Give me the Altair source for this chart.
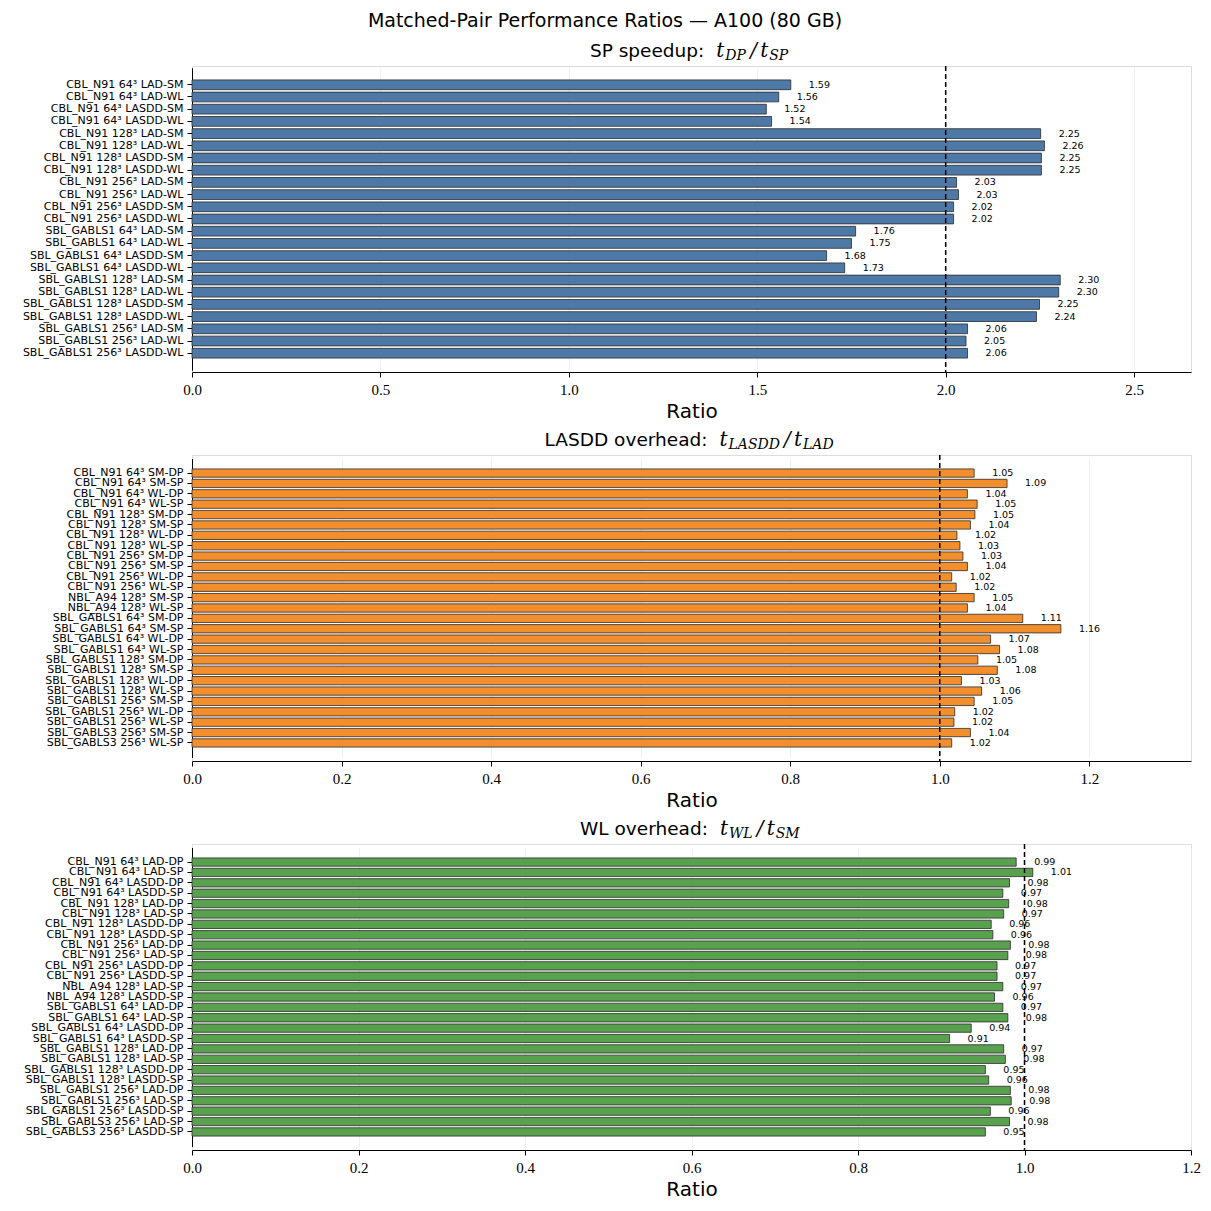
import altair as alt
import pandas as pd

# ---------------- data ----------------
sp_labels = [
    "CBL_N91 64³ LAD-SM", "CBL_N91 64³ LAD-WL", "CBL_N91 64³ LASDD-SM", "CBL_N91 64³ LASDD-WL",
    "CBL_N91 128³ LAD-SM", "CBL_N91 128³ LAD-WL", "CBL_N91 128³ LASDD-SM", "CBL_N91 128³ LASDD-WL",
    "CBL_N91 256³ LAD-SM", "CBL_N91 256³ LAD-WL", "CBL_N91 256³ LASDD-SM", "CBL_N91 256³ LASDD-WL",
    "SBL_GABLS1 64³ LAD-SM", "SBL_GABLS1 64³ LAD-WL", "SBL_GABLS1 64³ LASDD-SM", "SBL_GABLS1 64³ LASDD-WL",
    "SBL_GABLS1 128³ LAD-SM", "SBL_GABLS1 128³ LAD-WL", "SBL_GABLS1 128³ LASDD-SM", "SBL_GABLS1 128³ LASDD-WL",
    "SBL_GABLS1 256³ LAD-SM", "SBL_GABLS1 256³ LAD-WL", "SBL_GABLS1 256³ LASDD-WL",
]
sp_values = [
    1.589, 1.557, 1.524, 1.538,
    2.252, 2.262, 2.254, 2.254,
    2.029, 2.034, 2.021, 2.021,
    1.761, 1.750, 1.684, 1.732,
    2.304, 2.300, 2.249, 2.241,
    2.058, 2.054, 2.058,
]

lasdd_labels = [
    "CBL_N91 64³ SM-DP", "CBL_N91 64³ SM-SP", "CBL_N91 64³ WL-DP", "CBL_N91 64³ WL-SP",
    "CBL_N91 128³ SM-DP", "CBL_N91 128³ SM-SP", "CBL_N91 128³ WL-DP", "CBL_N91 128³ WL-SP",
    "CBL_N91 256³ SM-DP", "CBL_N91 256³ SM-SP", "CBL_N91 256³ WL-DP", "CBL_N91 256³ WL-SP",
    "NBL_A94 128³ SM-SP", "NBL_A94 128³ WL-SP",
    "SBL_GABLS1 64³ SM-DP", "SBL_GABLS1 64³ SM-SP", "SBL_GABLS1 64³ WL-DP", "SBL_GABLS1 64³ WL-SP",
    "SBL_GABLS1 128³ SM-DP", "SBL_GABLS1 128³ SM-SP", "SBL_GABLS1 128³ WL-DP", "SBL_GABLS1 128³ WL-SP",
    "SBL_GABLS1 256³ SM-SP", "SBL_GABLS1 256³ WL-DP", "SBL_GABLS1 256³ WL-SP",
    "SBL_GABLS3 256³ SM-SP", "SBL_GABLS3 256³ WL-SP",
]
lasdd_values = [
    1.046, 1.090, 1.037, 1.050,
    1.047, 1.041, 1.023, 1.027,
    1.031, 1.037, 1.016, 1.022,
    1.046, 1.037,
    1.111, 1.162, 1.068, 1.080,
    1.051, 1.077, 1.029, 1.056,
    1.046, 1.020, 1.019,
    1.041, 1.016,
]

wl_labels = [
    "CBL_N91 64³ LAD-DP", "CBL_N91 64³ LAD-SP", "CBL_N91 64³ LASDD-DP", "CBL_N91 64³ LASDD-SP",
    "CBL_N91 128³ LAD-DP", "CBL_N91 128³ LAD-SP", "CBL_N91 128³ LASDD-DP", "CBL_N91 128³ LASDD-SP",
    "CBL_N91 256³ LAD-DP", "CBL_N91 256³ LAD-SP", "CBL_N91 256³ LASDD-DP", "CBL_N91 256³ LASDD-SP",
    "NBL_A94 128³ LAD-SP", "NBL_A94 128³ LASDD-SP",
    "SBL_GABLS1 64³ LAD-DP", "SBL_GABLS1 64³ LAD-SP", "SBL_GABLS1 64³ LASDD-DP", "SBL_GABLS1 64³ LASDD-SP",
    "SBL_GABLS1 128³ LAD-DP", "SBL_GABLS1 128³ LAD-SP", "SBL_GABLS1 128³ LASDD-DP", "SBL_GABLS1 128³ LASDD-SP",
    "SBL_GABLS1 256³ LAD-DP", "SBL_GABLS1 256³ LAD-SP", "SBL_GABLS1 256³ LASDD-SP",
    "SBL_GABLS3 256³ LAD-SP", "SBL_GABLS3 256³ LASDD-SP",
]
wl_values = [
    0.990, 1.010, 0.982, 0.974,
    0.981, 0.975, 0.960, 0.962,
    0.983, 0.980, 0.967, 0.967,
    0.974, 0.964,
    0.974, 0.980, 0.936, 0.910,
    0.975, 0.977, 0.953, 0.957,
    0.983, 0.984, 0.959,
    0.982, 0.953,
]

SUPTITLE = "Matched-Pair Performance Ratios — A100 (80 GB)"

SANS = "DejaVu Sans"
MATH = "DejaVu Serif"
SERIF = "Liberation Serif"
W, H = 999, 306

# approximate advance widths (em) used only to centre the composite titles
SANS_W = {"S": .635, "P": .603, " ": .318, "s": .521, "p": .635, "e": .615, "d": .635,
          "u": .634, ":": .337, "L": .557, "A": .684, "D": .770, "o": .612, "v": .592,
          "r": .411, "h": .634, "a": .613, "W": .989, "M": .863}
MATH_W = {"D": .83, "P": .733, "S": .686, "L": .683, "A": .722, "W": 1.093, "M": .995}

T_SIZE = 18.5
SUB_SIZE = 14


def text_w(s, table, size):
    return sum(table.get(c, 0.6) for c in s) * size


def title_layers(sans, sub1, sub2):
    one = pd.DataFrame({"d": [0]})
    sw = text_w(sans, SANS_W, T_SIZE)
    w1 = text_w(sub1, MATH_W, SUB_SIZE)
    w2 = text_w(sub2, MATH_W, SUB_SIZE)
    mw = 9 + w1 + 3 + 10 + 9 + w2
    total = sw + 12 + mw
    start = W / 2 - 2 - total / 2
    xs = start + sw
    x0 = xs + 12
    yb = -9
    out = [alt.Chart(one).mark_text(text=sans, align="right", baseline="alphabetic",
                                    font=SANS, fontSize=T_SIZE, color="black").encode(
        x=alt.value(xs), y=alt.value(yb))]
    parts = [("t", False, x0), (sub1, True, x0 + 9), ("/", False, x0 + 9 + w1 + 3),
             ("t", False, x0 + 9 + w1 + 13), (sub2, True, x0 + 9 + w1 + 22)]
    for txt, sub, x in parts:
        out.append(alt.Chart(one).mark_text(
            text=txt, align="left", baseline="alphabetic", font=MATH, fontStyle="italic",
            fontSize=SUB_SIZE if sub else 20, color="black").encode(
            x=alt.value(x), y=alt.value(yb + (3 if sub else 0))))
    return out


def panel(labels, values, color, ref, xmax, ticks, title, first=False):
    n = len(labels)
    df = pd.DataFrame({"label": labels, "value": values,
                       "txt": [f"{v:.2f}" for v in values]})
    po = 0.05 * (n - 0.2)
    step = H / (n - 0.2 + 2 * po)
    off = (po - 1.0) * step
    yenc = alt.Y("label:N", sort=None, title=None,
                 scale=alt.Scale(paddingInner=0.2, paddingOuter=1.0, range=[off, H - off]),
                 axis=alt.Axis(labelFont=SANS, labelFontSize=11, labelLimit=0,
                               tickSize=5, labelPadding=4, domainColor="black",
                               tickColor="black", labelColor="black", grid=False))
    xenc = alt.X("value:Q", scale=alt.Scale(domain=[0, xmax], nice=False, zero=True),
                 axis=alt.Axis(values=ticks, format=".1f", title="Ratio", labelFlush=False,
                               labelFont=SERIF, labelFontSize=15, labelPadding=5,
                               tickSize=5, titleFont=SANS, titleFontSize=20,
                               titleFontWeight="normal", titlePadding=4,
                               grid=True, gridColor="#ececec", gridWidth=0.8,
                               domainColor="black", tickColor="black",
                               labelColor="black", titleColor="black"))
    base = alt.Chart(df)
    bars = base.mark_bar(color=color, stroke="#2b2b2b", strokeWidth=0.8).encode(x=xenc, y=yenc)
    rule = alt.Chart(pd.DataFrame({"ref": [ref]})).mark_rule(
        color="black", strokeDash=[5, 3], strokeWidth=1.5).encode(x="ref:Q")
    text = base.mark_text(align="left", baseline="middle", dx=18, fontSize=9.5,
                          font=SANS, color="black").encode(
        x="value:Q", y=alt.Y("label:N", sort=None), text="txt:N")
    layers = [bars, rule, text] + title_layers(*title)
    if first:
        one = pd.DataFrame({"d": [0]})
        layers.append(alt.Chart(one).mark_text(text=SUPTITLE, align="center", baseline="alphabetic",
                                               font=SANS, fontSize=19, color="black").encode(
            x=alt.value(413), y=alt.value(-39)))
        layers.append(alt.Chart(one).mark_text(text=".", align="left", opacity=0, fontSize=5).encode(
            x=alt.value(-186), y=alt.value(0)))
    return alt.layer(*layers).properties(width=W, height=H)


p1 = panel(sp_labels, sp_values, "#4e79a7", 2.0, 2.651, [0, 0.5, 1.0, 1.5, 2.0, 2.5],
           ("SP speedup:", "DP", "SP"), first=True)
p2 = panel(lasdd_labels, lasdd_values, "#f28e2b", 1.0, 1.336, [0, 0.2, 0.4, 0.6, 0.8, 1.0, 1.2],
           ("LASDD overhead:", "LASDD", "LAD"))
p3 = panel(wl_labels, wl_values, "#59a14f", 1.0, 1.2, [0, 0.2, 0.4, 0.6, 0.8, 1.0, 1.2],
           ("WL overhead:", "WL", "SM"))

chart = alt.vconcat(p1, p2, p3, spacing=83, bounds="flush").properties(
    padding={"left": 5, "top": 11, "right": 5, "bottom": 5}
).configure_view(stroke="black", strokeWidth=1).configure(background="white")

chart.save("out.html", embed_options={"renderer": "svg", "actions": False})
